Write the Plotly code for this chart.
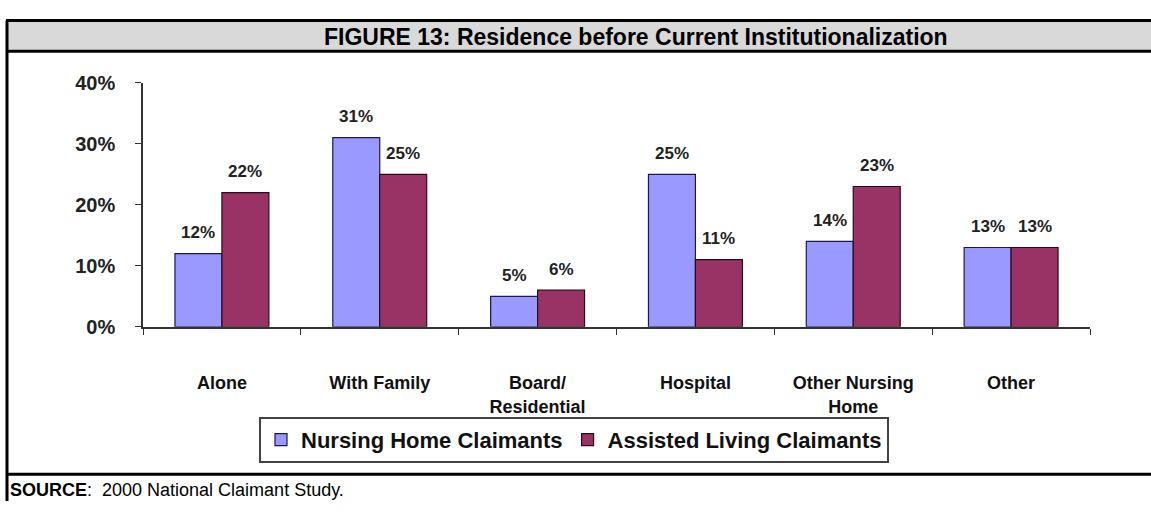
import plotly.graph_objects as go

# Residence categories and claimant shares (percent)
categories = ["Alone", "With Family", "Board/<br>Residential", "Hospital",
              "Other Nursing<br>Home", "Other"]
nursing_home = [12, 31, 5, 25, 14, 13]
assisted_living = [22, 25, 6, 11, 23, 13]
y_ticks = [0, 10, 20, 30, 40]
y_tick_labels = ["0%", "10%", "20%", "30%", "40%"]

W, H = 1151, 512


def py(pixel_y):
    """Convert a pixel row (from top) to paper y."""
    return 1 - pixel_y / H


def px(pixel_x):
    return pixel_x / W


FONT = "Liberation Sans, Arial, sans-serif"

series = [
    ("Nursing Home Claimants", nursing_home, "#9999FF", "#1a1a4d", -1),
    ("Assisted Living Claimants", assisted_living, "#993366", "#2a0a18", 1),
]

fig = go.Figure()
for name, values, fill, edge, _ in series:
    fig.add_trace(go.Bar(
        name=name, x=categories, y=values,
        marker=dict(color=fill, line=dict(color=edge, width=1.2)),
    ))

# Plot area geometry (pixels) used for bar label offsets
plot_left, plot_right = 143, 1090
bargap = 0.405
cat_width = (plot_right - plot_left) / len(categories)
bar_width = cat_width * (1 - bargap) / 2

# Value labels above each bar
annotations = []
for name, values, _, _, side in series:
    for cat, v in zip(categories, values):
        annotations.append(dict(
            x=cat, y=v, xref="x", yref="y", text=f"{v}%", showarrow=False,
            xanchor="center", yanchor="middle",
            xshift=side * bar_width / 2, yshift=21,
            font=dict(family=FONT, size=17, color="#222222", weight="bold"),
        ))

annotations += [
    dict(text="<b>FIGURE 13: Residence before Current Institutionalization</b>",
         xref="paper", yref="paper", x=px(636), y=py(27), showarrow=False,
         xanchor="center", yanchor="middle",
         font=dict(family=FONT, size=23, color="black")),
    dict(text="<b>SOURCE</b>:  2000 National Claimant Study.",
         xref="paper", yref="paper", x=px(8), y=py(500), showarrow=False,
         xanchor="left", yanchor="middle",
         font=dict(family=FONT, size=18, color="black")),
]

# Frame: title band, left rule and the rule above the source note
shapes = [
    dict(type="rect", xref="paper", yref="paper", x0=px(7), x1=1.01,
         y0=py(42), y1=py(10), fillcolor="#d9d9d9", line=dict(width=0),
         layer="below"),
    dict(type="line", xref="paper", yref="paper", x0=px(6), x1=1.01,
         y0=py(10), y1=py(10), line=dict(color="black", width=3)),
    dict(type="line", xref="paper", yref="paper", x0=px(6), x1=1.01,
         y0=py(42), y1=py(42), line=dict(color="black", width=3)),
    dict(type="line", xref="paper", yref="paper", x0=px(7), x1=px(7),
         y0=py(512), y1=py(10), line=dict(color="black", width=3)),
    dict(type="line", xref="paper", yref="paper", x0=px(6), x1=1.01,
         y0=py(484), y1=py(484), line=dict(color="black", width=3)),
]

fig.update_layout(
    width=W, height=H,
    margin=dict(l=0, r=0, t=0, b=0),
    paper_bgcolor="white", plot_bgcolor="white",
    barmode="group", bargap=bargap, bargroupgap=0,
    shapes=shapes, annotations=annotations,
    showlegend=True,
    legend=dict(
        orientation="h", x=px(574), xanchor="center", y=py(424), yanchor="top",
        bordercolor="#444444", borderwidth=2, bgcolor="white",
        font=dict(family=FONT, size=22, color="#111111", weight="bold"),
        itemwidth=30, tracegroupgap=0,
    ),
    xaxis=dict(
        domain=[px(plot_left), px(plot_right)], type="category",
        showline=True, linecolor="#333333", linewidth=1.5,
        ticks="outside", tickson="boundaries", ticklen=6, tickcolor="#333333",
        tickfont=dict(family=FONT, size=18, color="#111111", weight="bold"),
        ticklabelstandoff=39,
        showgrid=False, fixedrange=True,
    ),
    yaxis=dict(
        domain=[py(330), py(75)], range=[0, 40],
        tickvals=y_ticks, ticktext=y_tick_labels,
        showline=True, linecolor="#333333", linewidth=1.5,
        ticks="outside", ticklen=6, tickcolor="#333333",
        tickfont=dict(family=FONT, size=20, color="#222222", weight="bold"),
        ticklabelstandoff=16,
        showgrid=False, zeroline=False, fixedrange=True,
    ),
)

fig.write_html("out.html")
